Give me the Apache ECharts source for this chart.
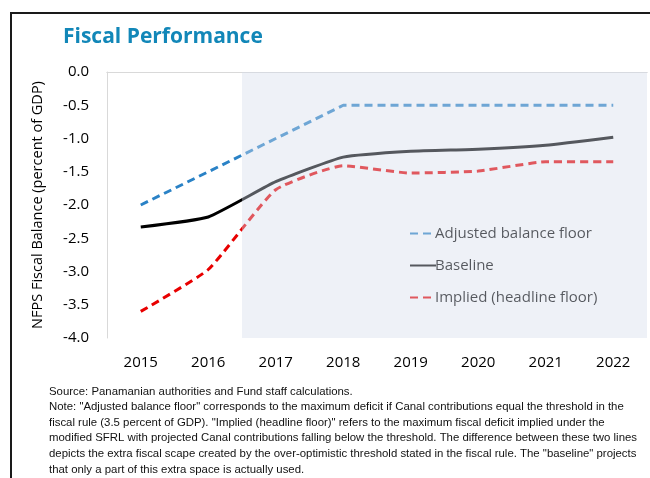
<!DOCTYPE html>
<html lang="en">
<head>
    <meta charset="UTF-8">
    <script src="https://cdn.jsdelivr.net/npm/echarts@6/dist/echarts.min.js"></script>
    <title>Fiscal Performance</title>
    <style>
        body { margin:0; overflow:hidden; background:#fff; }
        #frame { position:absolute; left:10px; top:12px; width:700px; height:600px; border:2px solid #1a1a1a; }
        #main { position:absolute; left:0; top:0; width:650px; height:478px; }
    </style>
</head>
<body>
    <div id="frame"></div>
    <div id="main"></div>
    <script>
        // data
        var years = ['2015', '2016', '2017', '2018', '2019', '2020', '2021', '2022'];
        var adjustedFloor = [-2.0, -1.5, -1.0, -0.5, -0.5, -0.5, -0.5, -0.5];
        var baseline = [-2.33, -2.18, -1.65, -1.28, -1.19, -1.16, -1.10, -0.98];
        var impliedFloor = [-3.6, -2.97, -1.77, -1.41, -1.52, -1.49, -1.35, -1.35];
        // projection period shading, in band units (2 = boundary between 2016 and 2017)
        var shadeFrom = 2;
        var shadeTo = 8;

        var font = 'Open Sans';
        var noteLines = [
            'Source: Panamanian authorities and Fund staff calculations.',
            'Note: "Adjusted balance floor" corresponds to the maximum deficit if Canal contributions equal the threshold in the',
            'fiscal rule (3.5 percent of GDP). "Implied (headline floor)" refers to the maximum fiscal deficit implied under the',
            'modified SFRL with projected Canal contributions falling below the threshold. The difference between these two lines',
            'depicts the extra fiscal scape created by the over-optimistic threshold stated in the fiscal rule. The "baseline" projects',
            'that only a part of this extra space is actually used.'
        ];

        var notes = noteLines.map(function (t, i) {
            return {
                type: 'text', left: 49, top: 386 + i * 15.6,
                style: { text: t, fill: '#111', font: '11.4px "Liberation Sans"' }
            };
        });

        var myCharts = echarts.init(document.getElementById('main'));
        var option = {
            animation: false,
            title: {
                text: 'Fiscal Performance', left: 58, top: 22,
                textStyle: { color: '#1287b8', fontSize: 21, fontWeight: 'bold', fontFamily: font }
            },
            legend: {
                orient: 'vertical', left: 404, top: 221,
                itemWidth: 26, itemHeight: 14, itemGap: 17,
                data: ['Adjusted balance floor', 'Baseline', 'Implied (headline floor)'],
                itemStyle: { opacity: 0 },
                textStyle: { color: '#000', fontSize: 15, fontFamily: font, padding: [0, 0, 0, -6] }
            },
            grid: { left: 107, right: 3, top: 72, bottom: 140 },
            xAxis: [{
                type: 'category', data: years, boundaryGap: true,
                axisLine: { lineStyle: { color: '#d9d9d9' } },
                axisTick: { show: false },
                axisLabel: { color: '#000', fontSize: 15, fontFamily: font, margin: 17 }
            }, {
                type: 'value', min: 0, max: 8, position: 'top',
                axisLine: { show: true, onZero: false, lineStyle: { color: '#d9d9d9' } },
                axisTick: { show: false }, axisLabel: { show: false }, splitLine: { show: false }
            }],
            yAxis: {
                type: 'value', min: -4, max: 0, interval: 0.5,
                name: 'NFPS Fiscal Balance (percent of GDP)', nameLocation: 'middle', nameGap: 62,
                nameTextStyle: { color: '#000', fontSize: 14.5, fontFamily: font },
                axisLine: { show: true, lineStyle: { color: '#d9d9d9' } },
                axisTick: { show: false },
                splitLine: { show: false },
                axisLabel: {
                    color: '#000', fontSize: 15, fontFamily: font, margin: 18,
                    formatter: function (v) { return v.toFixed(1); }
                }
            },
            series: [{
                name: 'Adjusted balance floor', type: 'line', data: adjustedFloor,
                symbol: 'none', lineStyle: { color: '#2a82c6', width: 3, type: [8, 5] },
                itemStyle: { color: '#2a82c6' }
            }, {
                name: 'Baseline', type: 'line', data: baseline, smooth: 0.15,
                symbol: 'none', lineStyle: { color: '#000', width: 3 },
                itemStyle: { color: '#000' }
            }, {
                name: 'Implied (headline floor)', type: 'line', data: impliedFloor, smooth: 0.15,
                symbol: 'none', lineStyle: { color: '#e80000', width: 3, type: [8, 5] },
                itemStyle: { color: '#e80000' }
            }, {
                // translucent veil over the projection years (also covers the legend)
                type: 'custom', xAxisIndex: 1, yAxisIndex: 0, z: 10, silent: true,
                data: [[shadeFrom, shadeTo, 0, -4]],
                encode: { x: [0, 1], y: [2, 3] },
                renderItem: function (params, api) {
                    var p0 = api.coord([api.value(0), api.value(2)]);
                    var p1 = api.coord([api.value(1), api.value(3)]);
                    return {
                        type: 'rect',
                        shape: { x: p0[0], y: p0[1], width: p1[0] - p0[0], height: p1[1] - p0[1] },
                        style: { fill: 'rgba(212,220,235,0.4)' }
                    };
                }
            }],
            graphic: notes
        };
        myCharts.setOption(option);
    </script>
</body>
</html>
